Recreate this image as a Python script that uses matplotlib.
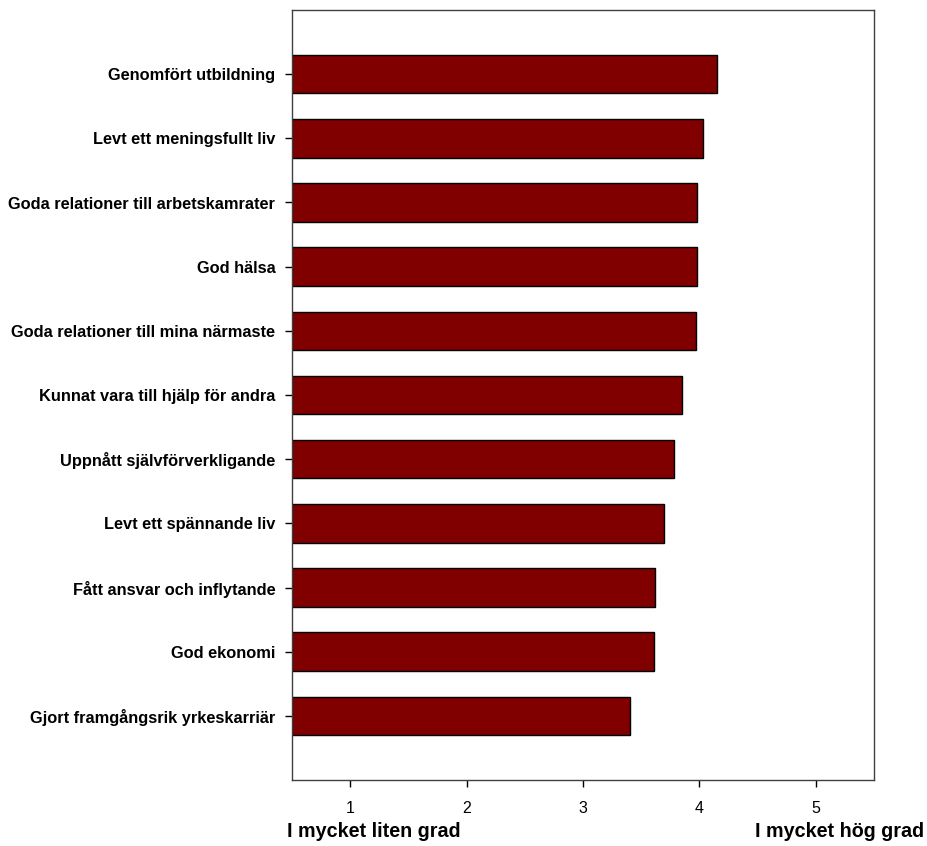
import numpy as np
import matplotlib.pyplot as plt

plt.rcParams['font.family'] = ['Liberation Sans', 'DejaVu Sans']

# categories, top to bottom
categories = [
    'Genomfört utbildning',
    'Levt ett meningsfullt liv',
    'Goda relationer till arbetskamrater',
    'God hälsa',
    'Goda relationer till mina närmaste',
    'Kunnat vara till hjälp för andra',
    'Uppnått självförverkligande',
    'Levt ett spännande liv',
    'Fått ansvar och inflytande',
    'God ekonomi',
    'Gjort framgångsrik yrkeskarriär',
]
means = [4.15, 4.03, 3.98, 3.98, 3.97, 3.85, 3.78, 3.70, 3.62, 3.61, 3.40]
xticks = [1, 2, 3, 4, 5]

fig = plt.figure(figsize=(9.27, 8.46), dpi=100)
ax = fig.add_axes([292 / 927, 1 - 780 / 846, (874 - 292) / 927, (780 - 10) / 846])

y = np.arange(len(categories))
ax.barh(y, np.array(means) - 0.5, left=0.5, height=0.6,
        color='#800000', edgecolor='black', linewidth=1)

ax.set_xlim(0.5, 5.5)
ax.set_ylim(len(categories), -1)
ax.set_yticks(y)
ax.set_yticklabels(categories, fontsize=11.8, fontweight='bold')
ax.set_xticks(xticks)
ax.set_xticklabels([str(t) for t in xticks], fontsize=11.5)
ax.tick_params(axis='y', length=5, width=1, pad=7)
ax.tick_params(axis='x', length=5, width=1, pad=10)

for s in ax.spines.values():
    s.set_color('#404040')
    s.set_linewidth(1)

fig.text(287 / 927, 1 - 831 / 846, 'I mycket liten grad', fontsize=14.2,
         fontweight='bold', ha='left', va='center')
fig.text(924 / 927, 1 - 831 / 846, 'I mycket hög grad', fontsize=14.2,
         fontweight='bold', ha='right', va='center')

fig.savefig('out.png', dpi=100)
